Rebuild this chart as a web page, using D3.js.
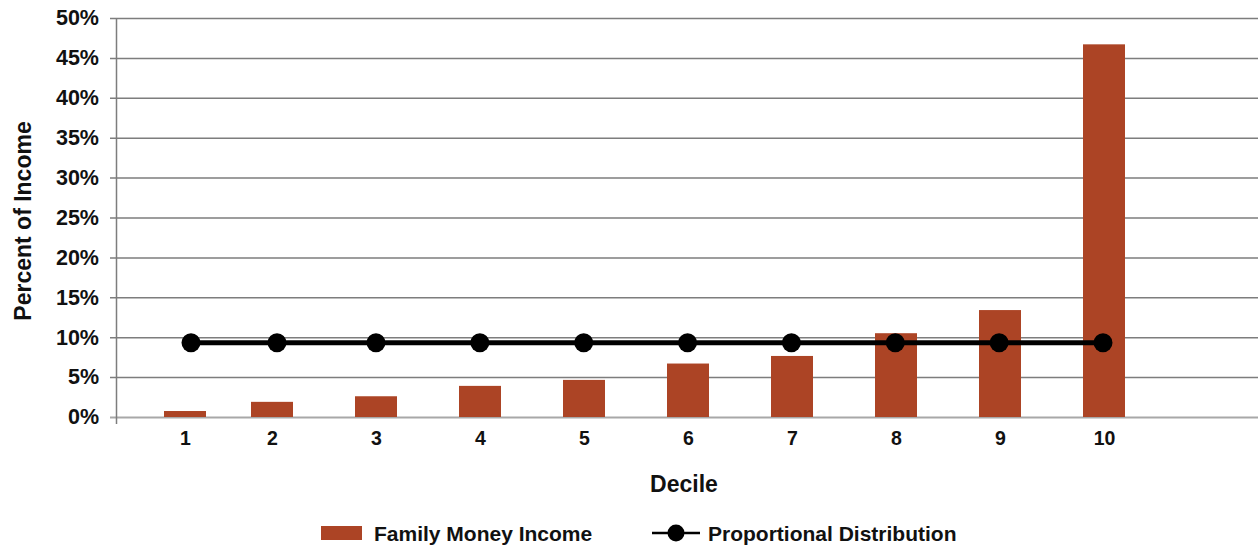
<!DOCTYPE html>
<html>
<head>
<meta charset="utf-8">
<script src="https://cdn.jsdelivr.net/npm/d3@7/dist/d3.min.js"></script>
<style>
  html, body { margin: 0; padding: 0; background: #fff; }
  svg { display: block; font-family: "Liberation Sans", Arial, Helvetica, sans-serif; }
</style>
</head>
<body>
<svg id="chart" width="1258" height="546"></svg>
<script>
// Share of total family money income received by each decile
const deciles = [1, 2, 3, 4, 5, 6, 7, 8, 9, 10];
const familyMoneyIncome = [0.75, 1.9, 2.6, 3.9, 4.65, 6.7, 7.65, 10.5, 13.4, 46.7];
const proportionalDistribution = [9.3, 9.3, 9.3, 9.3, 9.3, 9.3, 9.3, 9.3, 9.3, 9.3];
const yTicks = [0, 5, 10, 15, 20, 25, 30, 35, 40, 45, 50];
const seriesNames = ["Family Money Income", "Proportional Distribution"];

const W = 1258, H = 546;
const margin = { top: 18, right: 0, bottom: 129, left: 117 };
const plotW = W - margin.left - margin.right;
const plotH = H - margin.top - margin.bottom;
const barColor = "#ac4425";

const svg = d3.select("#chart");
const g = svg.append("g").attr("transform", `translate(${margin.left},${margin.top})`);

const y = d3.scaleLinear().domain([0, 50]).range([plotH, 0]);

// Category positions: first slot is narrower than the rest
const xBar = d3.scaleLinear().domain([1, 2, 10]).range([68, 155, 987]);
const xLine = d3.scaleLinear().domain([1, 2, 3, 10]).range([74, 160, 259, 986]);
const barW = 42;

// Horizontal gridlines with short ticks left of the axis
const yAxis = g.append("g")
  .call(d3.axisLeft(y).tickValues(yTicks).tickSize(-(plotW + 7)).tickFormat(d => d + "%").tickPadding(11))
  .attr("transform", "translate(-7,0)");
yAxis.select(".domain").remove();
yAxis.selectAll(".tick line")
  .attr("stroke", d => d === 0 ? "#a8a8a8" : "#7d7d7d")
  .attr("stroke-width", d => d === 0 ? 2 : 1.5);
yAxis.selectAll(".tick text")
  .attr("font-size", 21.5)
  .attr("font-weight", "bold")
  .attr("fill", "#111")
  .attr("font-family", "'Liberation Sans', Arial, sans-serif");

// Vertical axis line
g.append("line")
  .attr("x1", -0.5).attr("x2", -0.5)
  .attr("y1", y(50)).attr("y2", plotH + 7)
  .attr("stroke", "#7d7d7d").attr("stroke-width", 1.5);

// Bars
g.selectAll("rect.bar")
  .data(deciles)
  .join("rect")
  .attr("class", "bar")
  .attr("x", (d, i) => xBar(d) - barW / 2)
  .attr("width", barW)
  .attr("y", (d, i) => y(familyMoneyIncome[i]))
  .attr("height", (d, i) => y(0) - y(familyMoneyIncome[i]))
  .attr("fill", barColor);

// Decile labels
const xAxis = g.append("g")
  .attr("transform", `translate(0,${plotH})`)
  .call(d3.axisBottom(xBar).tickValues(deciles).tickSize(0).tickFormat(d3.format("d")).tickPadding(14));
xAxis.select(".domain").remove();
xAxis.selectAll(".tick text")
  .attr("font-size", 19.5)
  .attr("font-weight", "bold")
  .attr("fill", "#111")
  .attr("font-family", "'Liberation Sans', Arial, sans-serif");

// Proportional distribution line
const lineGen = d3.line()
  .x((d, i) => xLine(deciles[i]))
  .y(d => y(d));
g.append("path")
  .datum(proportionalDistribution)
  .attr("d", lineGen)
  .attr("fill", "none")
  .attr("stroke", "#000")
  .attr("stroke-width", 5);
g.selectAll("circle.pt")
  .data(proportionalDistribution)
  .join("circle")
  .attr("class", "pt")
  .attr("cx", (d, i) => xLine(deciles[i]))
  .attr("cy", d => y(d))
  .attr("r", 9.5)
  .attr("fill", "#000");

// Axis titles
svg.append("text")
  .attr("transform", `translate(31,221) rotate(-90)`)
  .attr("text-anchor", "middle")
  .attr("font-size", 23)
  .attr("font-weight", "bold")
  .attr("fill", "#111")
  .text("Percent of Income");

svg.append("text")
  .attr("x", 684).attr("y", 492)
  .attr("text-anchor", "middle")
  .attr("font-size", 23)
  .attr("font-weight", "bold")
  .attr("fill", "#111")
  .text("Decile");

// Legend
const legend = svg.append("g").attr("transform", "translate(0,533)");
legend.append("rect")
  .attr("x", 321).attr("y", -7).attr("width", 41).attr("height", 14)
  .attr("fill", barColor);
legend.append("text")
  .attr("x", 374).attr("y", 8)
  .attr("font-size", 21)
  .attr("font-weight", "bold")
  .attr("fill", "#111")
  .text(seriesNames[0]);
legend.append("line")
  .attr("x1", 652).attr("x2", 700).attr("y1", 0).attr("y2", 0)
  .attr("stroke", "#000").attr("stroke-width", 2.5);
legend.append("circle")
  .attr("cx", 676).attr("cy", 0).attr("r", 8.5).attr("fill", "#000");
legend.append("text")
  .attr("x", 708).attr("y", 8)
  .attr("font-size", 21)
  .attr("font-weight", "bold")
  .attr("fill", "#111")
  .text(seriesNames[1]);
</script>
</body>
</html>
